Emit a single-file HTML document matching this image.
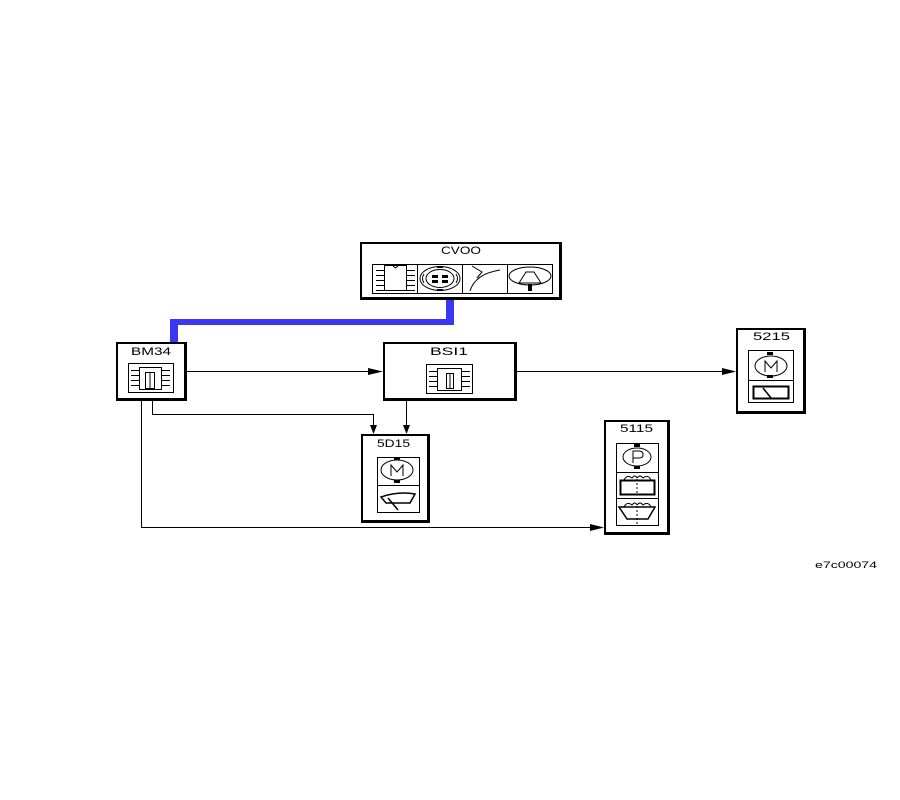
<!DOCTYPE html>
<html><head><meta charset="utf-8"><style>
html,body{margin:0;padding:0;background:#fff;width:900px;height:800px;overflow:hidden}
svg{display:block}
text{font-family:"Liberation Sans",sans-serif;font-size:11px;fill:#000}
</style></head><body>
<svg width="900" height="800" viewBox="0 0 900 800" xmlns="http://www.w3.org/2000/svg">
<rect width="900" height="800" fill="#fff"/>
<!-- blue bus -->
<g fill="#3a36f2">
<rect x="446" y="300" width="8" height="25"/>
<rect x="170" y="319" width="284" height="6"/>
<rect x="170" y="319" width="8" height="23"/>
</g>
<!-- connectors -->
<g stroke="#000" stroke-width="1" fill="none" shape-rendering="crispEdges">
<line x1="187" y1="371.5" x2="372" y2="371.5"/>
<line x1="517" y1="371.5" x2="726" y2="371.5"/>
<polyline points="141.5,401 141.5,527.5 594,527.5"/>
<polyline points="152.5,401 152.5,414.5 373.5,414.5 373.5,426"/>
<line x1="406.5" y1="401" x2="406.5" y2="426"/>
</g>
<g fill="#000">
<polygon points="368,368 383,371.5 368,375"/>
<polygon points="722,368 736,371.5 722,375"/>
<polygon points="590,524 604,527.5 590,531"/>
<polygon points="370,425 377,425 373.5,434"/>
<polygon points="403,425 410,425 406.5,434"/>
</g>
<!-- boxes: outer black, inner white -->
<g>
<rect x="360" y="242" width="202" height="58" fill="#000"/><rect x="362" y="244" width="197" height="53" fill="#fff"/>
<rect x="116" y="342" width="71" height="59" fill="#000"/><rect x="118" y="344" width="66" height="54" fill="#fff"/>
<rect x="383" y="342" width="134" height="59" fill="#000"/><rect x="385" y="344" width="129" height="54" fill="#fff"/>
<rect x="361" y="434" width="69" height="89" fill="#000"/><rect x="363" y="436" width="64" height="84" fill="#fff"/>
<rect x="604" y="420" width="66" height="115" fill="#000"/><rect x="606" y="422" width="61" height="110" fill="#fff"/>
<rect x="736" y="328" width="70" height="86" fill="#000"/><rect x="738" y="330" width="65" height="81" fill="#fff"/>
</g>
<!-- labels -->
<text x="441" y="254" textLength="40" lengthAdjust="spacingAndGlyphs">CVOO</text>
<text x="131" y="355" textLength="40" lengthAdjust="spacingAndGlyphs">BM34</text>
<text x="430" y="355" textLength="38" lengthAdjust="spacingAndGlyphs">BSI1</text>
<text x="377" y="447" textLength="33" lengthAdjust="spacingAndGlyphs">5D15</text>
<text x="620" y="432" textLength="33" lengthAdjust="spacingAndGlyphs">5115</text>
<text x="753" y="340" textLength="37" lengthAdjust="spacingAndGlyphs">5215</text>
<text x="815" y="568" textLength="62" lengthAdjust="spacingAndGlyphs" style="font-size:9px">e7c00074</text>

<g stroke="#000" stroke-width="1" fill="none">
<!-- CVOO strip -->
<rect x="372.5" y="264.5" width="180" height="29"/>
<line x1="417.5" y1="264" x2="417.5" y2="294"/>
<line x1="462.5" y1="264" x2="462.5" y2="294"/>
<line x1="507.5" y1="264" x2="507.5" y2="294"/>
<!-- cell1 chip -->
<rect x="384.5" y="265.5" width="22" height="25"/>
<path d="M393 266 L395.5 268 L398 266"/>
<path d="M376 270.5h8M376 275.5h8M376 280.5h8M376 285.5h8M376 290.5h8M407 270.5h8M407 275.5h8M407 280.5h8M407 285.5h8M407 290.5h8"/>
<!-- cell2 -->
<ellipse cx="440" cy="278.5" rx="20" ry="12"/>
<ellipse cx="440" cy="278.5" rx="14" ry="9"/>
<path d="M424 274 Q421 278.5 424 283 M456 274 Q459 278.5 456 283"/>
<!-- cell3 -->
<path d="M470 291 Q475 274 500 270"/>
<path d="M472 266 L482 272 L477 278"/>
<!-- cell4 -->
<ellipse cx="530" cy="276" rx="21" ry="9"/>
<path d="M519 283 L526 272 L534 272 L541 283 Z"/>
<!-- BM34 icon -->
<rect x="128.5" y="363.5" width="45" height="29"/>
<rect x="139.5" y="367.5" width="22" height="22"/>
<rect x="145.5" y="372.5" width="9" height="16"/>
<line x1="150" y1="372" x2="150" y2="389"/>
<path d="M131 370.5h8M131 375.5h8M131 380.5h8M131 385.5h8M162 370.5h8M162 375.5h8M162 380.5h8M162 385.5h8"/>
<!-- BSI1 icon -->
<rect x="426.5" y="364.5" width="46" height="29"/>
<rect x="437.5" y="368.5" width="24" height="22"/>
<rect x="446.5" y="373.5" width="7" height="15"/>
<line x1="450" y1="373" x2="450" y2="389"/>
<path d="M429 371.5h8M429 376.5h8M429 381.5h8M429 386.5h8M462 371.5h8M462 376.5h8M462 381.5h8M462 386.5h8"/>
<!-- 5D15 icon -->
<rect x="377.5" y="457.5" width="42" height="55"/>
<line x1="377" y1="485.5" x2="420" y2="485.5"/>
<ellipse cx="397" cy="470" rx="16" ry="10"/>
<path d="M391 476 V465 L397 472 L403 465 V476"/>
<path d="M381 497 Q398 491 415 494 L410 503 L386 503 Z" stroke-width="1.5"/>
<path d="M388 498 L398 510" stroke-width="1.5"/>
<!-- 5115 icon -->
<rect x="616.5" y="443.5" width="42" height="82"/>
<line x1="616" y1="472.5" x2="659" y2="472.5"/>
<line x1="616" y1="498.5" x2="659" y2="498.5"/>
<ellipse cx="637" cy="457" rx="14" ry="9"/>
<path d="M633 463 V451 H639 Q643 451 643 454.5 Q643 458 639 458 H633"/>
<rect x="620.5" y="480.5" width="34" height="14" stroke-width="2"/>
<path d="M624 480 Q627 474 632 478 Q635 474 637 478 M637 478 Q640 474 643 478 Q648 474 651 480"/>
<path d="M637 479 V494" stroke-dasharray="2 2"/>
<path d="M619 507 L655 507 L648 519 L627 519 Z" stroke-width="1.5"/>
<path d="M624 507 Q627 501 632 505 Q635 501 637 505 M637 505 Q640 501 643 505 Q648 501 651 507"/>
<path d="M637 506 V524" stroke-dasharray="2 2"/>
<!-- 5215 icon -->
<rect x="748.5" y="350.5" width="45" height="52"/>
<line x1="748" y1="380.5" x2="794" y2="380.5"/>
<ellipse cx="771" cy="366" rx="16" ry="10"/>
<path d="M765 372 V361 L771 368 L777 361 V372"/>
<rect x="753.5" y="386.5" width="35" height="12" stroke-width="2"/>
<line x1="763" y1="388" x2="771" y2="398" stroke-width="1.5"/>
</g>
<g fill="#000">
<rect x="432" y="275" width="6" height="3"/><rect x="442" y="275" width="6" height="3"/>
<rect x="432" y="280" width="6" height="3"/><rect x="442" y="280" width="6" height="3"/>
<rect x="437" y="266" width="6" height="2"/><rect x="437" y="289" width="6" height="2"/>
<rect x="528" y="284" width="4" height="7"/>
<rect x="394" y="457" width="6" height="3"/><rect x="394" y="480" width="6" height="3"/>
<rect x="634" y="444" width="6" height="3"/><rect x="634" y="466" width="6" height="3"/>
<rect x="767" y="352" width="6" height="3"/><rect x="767" y="375" width="6" height="3"/>
</g>
</svg>
</body></html>
